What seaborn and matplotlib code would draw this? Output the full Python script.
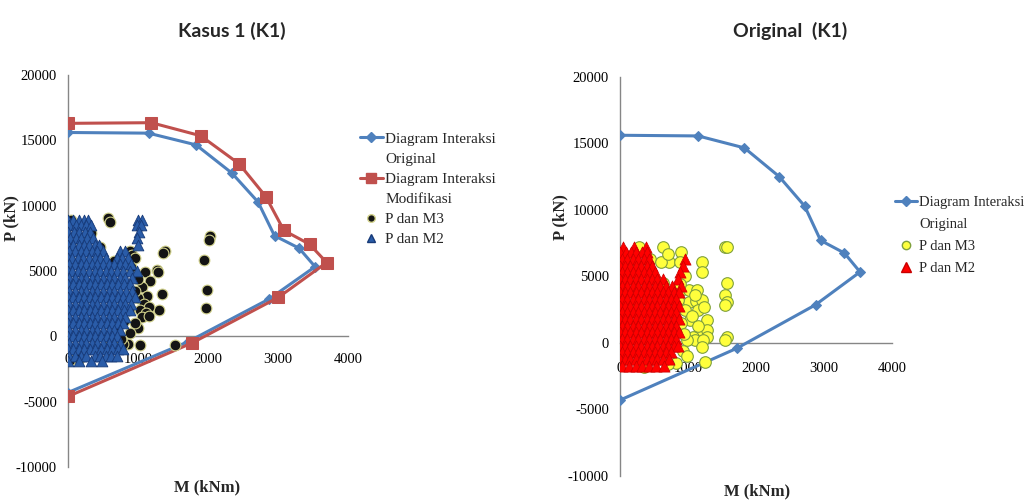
import matplotlib
matplotlib.use("Agg")
import matplotlib.pyplot as plt
from matplotlib.lines import Line2D
import seaborn as sns

# ---------------- data ----------------
# Interaction diagram, original section (M in kNm, P in kN)
orig_m = [0, 1150, 1830, 2340, 2715, 2950, 3300, 3530, 2875, 1720, 0]
orig_p = [15600, 15550, 14650, 12500, 10280, 7700, 6750, 5330, 2860, -400, -4300]
# Interaction diagram, modified section
mod_m = [0, 1190, 1895, 2445, 2825, 3085, 3450, 3695, 3005, 1775, 0]
mod_p = [16300, 16350, 15350, 13200, 10700, 8100, 7050, 5650, 2980, -500, -4600]

# Kasus 1: P dan M2 (rows of equal P, M values in each row)
k1_m2_rows_p = [8900, 8500, 8000, 7500, 7000, 6500, 6000, 5500, 5000, 4500, 4000, 3500,
                3000, 2500, 2000, 1500, 1000, 500, 0, -500, -1000, -1500, -1900]
k1_m2_rows_m = [
    [0, 70, 150, 230, 290, 1000, 1060],
    [20, 110, 190, 260, 330, 990, 1040],
    [0, 80, 160, 240, 310, 1010],
    [30, 110, 190, 270, 350, 990],
    [0, 70, 150, 230, 300, 380, 440, 1000],
    [20, 100, 180, 260, 340, 420, 500, 740, 810],
    [0, 60, 140, 220, 300, 380, 460, 540, 700, 770, 850],
    [20, 100, 180, 260, 340, 420, 500, 580, 660, 740, 820, 900],
    [0, 60, 140, 220, 300, 380, 460, 540, 620, 700, 780, 880, 980],
    [20, 100, 180, 260, 340, 420, 500, 580, 660, 740, 820, 920],
    [0, 70, 150, 230, 310, 390, 470, 550, 630, 710, 800, 880],
    [20, 100, 180, 260, 340, 420, 500, 580, 660, 740, 830, 910],
    [0, 70, 150, 230, 310, 390, 470, 550, 630, 710, 790, 870, 950],
    [20, 100, 180, 260, 340, 420, 500, 580, 660, 740, 820, 900],
    [0, 70, 150, 230, 310, 390, 470, 550, 630, 710, 800, 880],
    [20, 100, 180, 260, 340, 420, 500, 580, 660, 740, 820],
    [0, 70, 150, 230, 310, 390, 470, 550, 630, 710, 790],
    [20, 100, 180, 260, 340, 420, 500, 580, 660, 740],
    [0, 70, 150, 230, 310, 390, 470, 550, 630, 700],
    [20, 100, 180, 260, 340, 420, 500, 580, 660, 740],
    [0, 70, 150, 230, 310, 390, 470, 550, 630, 710, 780],
    [20, 100, 180, 260, 380, 460, 540, 620, 700],
    [0, 150, 330, 480],
]
# Kasus 1: P dan M3
k1_m3_m = [576, 600, 1386, 1360, 2029, 2010, 1943, 1276, 1290, 1981, 1971, 1338, 1305,
           1529, 1029, 862, 790, 695, 600, 886, 920, 960, 1100, 1171, 1052, 1124, 1000,
           1080, 1150, 1030, 1110, 1050, 1150, 1005, 886, 960, 1000, 950, 900, 40, 30,
           20, 30, 150, 330, 450, 650, 700, 760, 800, 870]
k1_m3_p = [9050, 8750, 6500, 6350, 7645, 7400, 5860, 5100, 4900, 3570, 2170, 3250, 2000,
           -635, -635, -600, -550, -600, -650, 6500, 6250, 6000, 4900, 4200, 3800, 3100, 2900,
           2500, 2250, 2050, 1800, 1500, 1550, 640, 260, 1000, 4400, 3500, 5300, 8900, 7000,
           6000, -1800, -1700, 7900, 6800, 5800, 400, -200, 1200, 2000]

# Original: P dan M2
o_m2_rows_p = [7200, 6800, 6300, 5800, 5300, 4800, 4300, 3800, 3300, 2800, 2300, 1800,
               1300, 800, 300, -200, -700, -1200, -1700]
o_m2_rows_m = [
    [50, 200, 380],
    [0, 90, 160, 240, 330, 400],
    [30, 110, 190, 270, 350, 420, 960],
    [0, 70, 150, 230, 310, 390, 470, 920],
    [30, 110, 190, 270, 350, 430, 510, 880],
    [0, 70, 150, 230, 310, 390, 470, 550, 630, 860],
    [30, 110, 190, 270, 350, 430, 510, 590, 670, 760, 900],
    [0, 70, 150, 230, 310, 390, 470, 550, 630, 710, 790, 870],
    [30, 110, 190, 270, 350, 430, 510, 590, 670, 750, 830],
    [0, 70, 150, 230, 310, 390, 470, 550, 630, 710, 790, 870],
    [30, 110, 190, 270, 350, 430, 510, 590, 670, 750, 830],
    [0, 70, 150, 230, 310, 390, 470, 550, 630, 710, 790, 870],
    [30, 110, 190, 270, 350, 430, 510, 590, 670, 750, 830],
    [0, 70, 150, 230, 310, 390, 470, 550, 630, 710, 790, 870],
    [30, 110, 190, 270, 350, 430, 510, 590, 670, 750, 830],
    [0, 70, 150, 230, 310, 390, 470, 550, 630, 710, 790, 860],
    [30, 110, 190, 270, 350, 430, 510, 590, 670, 750],
    [0, 70, 150, 230, 310, 390, 470, 550, 630, 720],
    [30, 130, 230, 330, 430, 530, 640],
]
# Original: P dan M3
o_m3_m = [627, 1544, 1574, 725, 1201, 1201, 637, 1569, 902, 1010, 1127, 1544, 1569, 1544,
          1019, 1117, 1200, 956, 1152, 1029, 1274, 1176, 1274, 1078, 1274, 1103, 1225, 980,
          1568, 1544, 1201, 1250, 24, 280, 440, 600, 950, 880, 1060, 1150, 900, 940, 1230,
          1100, 860, 930, 980, 830, 700, 350, 120, 180, 550, 700, 900, 210, 880]
o_m3_p = [7180, 7200, 7200, 6100, 6100, 5350, 4480, 4480, 3980, 3980, 3980, 3600, 3100, 2850,
          3100, 3150, 3230, 2480, 2480, 1730, 1730, 980, 980, 480, 480, 230, 230, 230,
          480, 230, -280, -1400, 6730, 7200, 6300, 6100, 5000, 4400, 2000, 1300, 1500, 700, 2700,
          3600, 3200, -600, -1000, -1500, -1600, -1800, 5200, 2500, 2000, 6700, 6800, 6300, 6100]

x_ticks = [0, 1000, 2000, 3000, 4000]
y_ticks = [-10000, -5000, 0, 5000, 10000, 15000, 20000]


def flatten(rows_p, rows_m):
    xs, ys = [], []
    for p, ms in zip(rows_p, rows_m):
        for m in ms:
            xs.append(m)
            ys.append(p)
    return xs, ys


k1_m2_m, k1_m2_p = flatten(k1_m2_rows_p, k1_m2_rows_m)
o_m2_m, o_m2_p = flatten(o_m2_rows_p, o_m2_rows_m)

# ---------------- style ----------------
sns.set_style("white")
plt.rcParams["font.family"] = ["Liberation Serif", "DejaVu Serif"]

BLUE = "#4F81BD"
RED = "#C0504D"
AXC = "#868686"

fig = plt.figure(figsize=(10.30, 5.01), dpi=100)
W, H = 1030.0, 501.0

ax1 = fig.add_axes([68 / W, 34 / H, 280 / W, 392 / H])
ax2 = fig.add_axes([620 / W, 25 / H, 272 / W, 399.3 / H])


def style_axes(ax, xpad):
    ax.set_xlim(0, 4000)
    ax.set_ylim(-10000, 20000)
    ax.set_xticks(x_ticks)
    ax.set_yticks(y_ticks)
    ax.set_xticklabels([str(v) for v in x_ticks])
    ax.set_yticklabels([str(v) for v in y_ticks])
    for s in ["top", "right"]:
        ax.spines[s].set_visible(False)
    ax.spines["bottom"].set_position(("data", 0))
    for s in ["left", "bottom"]:
        ax.spines[s].set_color(AXC)
        ax.spines[s].set_linewidth(1.0)
    ax.tick_params(axis="both", direction="out", length=4, width=1.0, color=AXC,
                   labelsize=10.5, labelcolor="black")
    ax.tick_params(axis="y", pad=4)
    ax.tick_params(axis="x", pad=xpad)
    ax.set_xlabel("")
    ax.set_ylabel("")
    ax.patch.set_alpha(0)


# ---------- left panel ----------
sns.lineplot(x=orig_m, y=orig_p, sort=False, estimator=None, ax=ax1, color=BLUE,
             linewidth=2.2, marker="D", markersize=5.5, markeredgecolor=BLUE, zorder=3)
sns.lineplot(x=mod_m, y=mod_p, sort=False, estimator=None, ax=ax1, color=RED,
             linewidth=2.2, marker="s", markersize=8, markeredgecolor=RED, zorder=3)
sns.scatterplot(x=k1_m3_m, y=k1_m3_p, ax=ax1, marker="o", s=60, color="#141414",
                edgecolor="#d2d28c", linewidth=0.8, zorder=4)
sns.scatterplot(x=k1_m2_m, y=k1_m2_p, ax=ax1, marker="^", s=60, color="#2A5CA8",
                edgecolor="#173a78", linewidth=0.6, zorder=5)
style_axes(ax1, 8)

# ---------- right panel ----------
sns.lineplot(x=orig_m, y=orig_p, sort=False, estimator=None, ax=ax2, color=BLUE,
             linewidth=2.2, marker="D", markersize=5.5, markeredgecolor=BLUE, zorder=3)
sns.scatterplot(x=o_m3_m, y=o_m3_p, ax=ax2, marker="o", s=70, color="#FFFF3C",
                edgecolor="#7FA03C", linewidth=0.8, zorder=4)
sns.scatterplot(x=o_m2_m, y=o_m2_p, ax=ax2, marker="^", s=65, color="#FF0000",
                edgecolor="#C80000", linewidth=0.5, zorder=5)
style_axes(ax2, 10)

# ---------- legends ----------
blank = Line2D([], [], linestyle="none", marker=None)
h_orig = Line2D([], [], color=BLUE, lw=2.2, marker="D", markersize=5.5)
h_mod = Line2D([], [], color=RED, lw=2.2, marker="s", markersize=7.5)
h_k1m3 = Line2D([], [], linestyle="none", marker="o", markersize=5.5,
                markerfacecolor="#141414", markeredgecolor="#d2d28c")
h_k1m2 = Line2D([], [], linestyle="none", marker="^", markersize=6,
                markerfacecolor="#2A5CA8", markeredgecolor="#173a78")
h_om3 = Line2D([], [], linestyle="none", marker="o", markersize=6,
               markerfacecolor="#FFFF3C", markeredgecolor="#7FA03C")
h_om2 = Line2D([], [], linestyle="none", marker="^", markersize=6.5,
               markerfacecolor="#FF0000", markeredgecolor="#C80000")

leg1 = ax1.legend([h_orig, blank, h_mod, blank, h_k1m3, h_k1m2],
                  ["Diagram Interaksi", "Original", "Diagram Interaksi", "Modifikasi",
                   "P dan M3", "P dan M2"],
                  loc="upper left", bbox_to_anchor=(360 / W, 1 - 132 / H),
                  bbox_transform=fig.transFigure, frameon=False, fontsize=11,
                  borderpad=0, borderaxespad=0, handlelength=1.5, handletextpad=0.15,
                  labelspacing=0.42)
leg2 = ax2.legend([h_orig, blank, h_om3, h_om2],
                  ["Diagram Interaksi", "Original", "P dan M3", "P dan M2"],
                  loc="upper left", bbox_to_anchor=(895 / W, 1 - 196 / H),
                  bbox_transform=fig.transFigure, frameon=False, fontsize=10.5,
                  borderpad=0, borderaxespad=0, handlelength=1.5, handletextpad=0.15,
                  labelspacing=0.6)

# ---------- titles & axis labels ----------
title_font = ["Lato", "DejaVu Sans"]
fig.text(232 / W, 1 - 31 / H, "Kasus 1 (K1)", ha="center", va="center",
         fontsize=14, fontweight="bold", family=title_font)
fig.text(790 / W, 1 - 31 / H, "Original  (K1)", ha="center", va="center",
         fontsize=14, fontweight="bold", family=title_font)

fig.text(207 / W, 1 - 487 / H, "M (kNm)", ha="center", va="center",
         fontsize=12, fontweight="bold")
fig.text(757 / W, 1 - 491 / H, "M (kNm)", ha="center", va="center",
         fontsize=12, fontweight="bold")
fig.text(11 / W, 1 - 218 / H, "P (kN)", ha="center", va="center",
         fontsize=12, fontweight="bold", rotation=90)
fig.text(560 / W, 1 - 217 / H, "P (kN)", ha="center", va="center",
         fontsize=12, fontweight="bold", rotation=90)

fig.savefig("out.png", dpi=100)
